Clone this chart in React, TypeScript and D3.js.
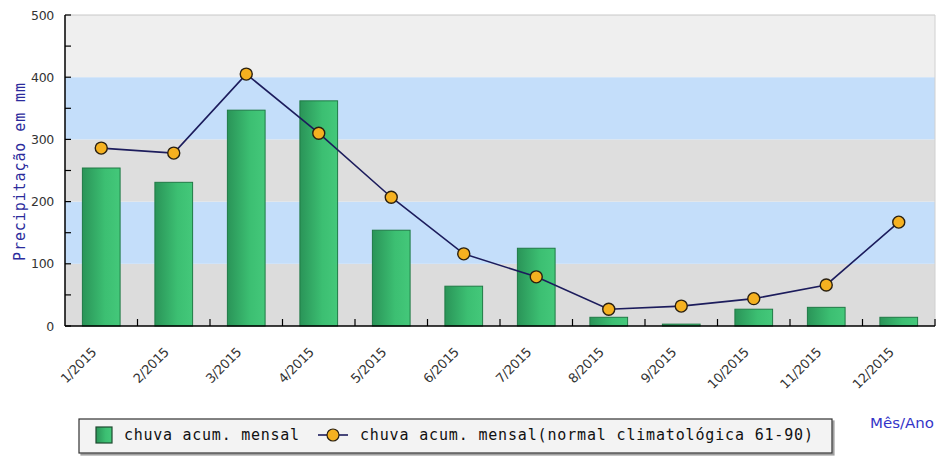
import React from "react";
import * as d3 from "d3";

const categories = ["1/2015","2/2015","3/2015","4/2015","5/2015","6/2015","7/2015","8/2015","9/2015","10/2015","11/2015","12/2015"];
const chuvaMensal = [254, 231, 347, 362, 154, 64, 125, 14, 3, 27, 30, 14];
const normalClimatologica = [286, 278, 405, 310, 207, 116, 79, 27, 32, 44, 66, 167];
const yTicks = [0, 100, 200, 300, 400, 500];
const yMinorTicks = [50, 150, 250, 350, 450];
const bands = [
  { from: 0, to: 100, color: "#dcdcdc" },
  { from: 100, to: 200, color: "#c4defa" },
  { from: 200, to: 300, color: "#dedede" },
  { from: 300, to: 400, color: "#c4defa" },
  { from: 400, to: 500, color: "#efefef" },
];

const W = 941, H = 456;
const M = { left: 65, right: 935, top: 15, bottom: 326 };

export default function App() {
  const x = d3.scaleBand<string>().domain(categories).range([M.left, M.right]).paddingInner(0).paddingOuter(0);
  const y = d3.scaleLinear().domain([0, 500]).range([M.bottom, M.top]);
  const bw = x.bandwidth() * 0.52;
  const cx = (c: string) => (x(c) as number) + x.bandwidth() / 2;
  const line = d3.line<number>().x((_, i) => cx(categories[i])).y((d) => y(d));
  const mono = "'DejaVu Sans Mono', monospace";
  const sans = "'DejaVu Sans', Verdana, sans-serif";

  return (
    <svg width={W} height={H} style={{ position: "absolute", left: 0, top: 0, background: "#fff" }}>
      <defs>
        <linearGradient id="barG" x1="0" x2="1" y1="0" y2="0">
          <stop offset="0" stopColor="#2a9458" />
          <stop offset="0.6" stopColor="#3cbf72" />
          <stop offset="1" stopColor="#44c87a" />
        </linearGradient>
        <filter id="shadow" x="-5%" y="-20%" width="110%" height="160%">
          <feDropShadow dx="2" dy="2" stdDeviation="0.6" floodColor="#888" floodOpacity="0.8" />
        </filter>
      </defs>
      {bands.map((b, i) => (
        <rect key={i} x={M.left} width={M.right - M.left} y={y(b.to)} height={y(b.from) - y(b.to)} fill={b.color} />
      ))}
      <line x1={M.left} x2={M.right} y1={M.top} y2={M.top} stroke="#c8c8c8" />
      <line x1={M.right} x2={M.right} y1={M.top} y2={M.bottom} stroke="#d0d0d0" />
      {chuvaMensal.map((v, i) => (
        <rect key={i} x={cx(categories[i]) - bw / 2} width={bw} y={y(v)} height={y(0) - y(v)}
          fill="url(#barG)" stroke="#1f7a45" strokeWidth={1} />
      ))}
      <path d={line(normalClimatologica) || ""} fill="none" stroke="#1c1c5c" strokeWidth={1.6} />
      {normalClimatologica.map((v, i) => (
        <circle key={i} cx={cx(categories[i])} cy={y(v)} r={6} fill="#f5b120" stroke="#2a2010" strokeWidth={1.4} />
      ))}
      {/* axes */}
      <line x1={M.left} x2={M.left} y1={M.top} y2={M.bottom} stroke="#000" strokeWidth={1.5} />
      <line x1={M.left} x2={M.right} y1={M.bottom} y2={M.bottom} stroke="#000" strokeWidth={1.5} />
      {yTicks.concat(yMinorTicks).map((t) => (
        <line key={t} x1={M.left} x2={M.left + 6} y1={y(t)} y2={y(t)} stroke="#000" strokeWidth={1.2} />
      ))}
      {yTicks.map((t) => (
        <text key={t} x={M.left - 11} y={y(t)} dy="0.36em" textAnchor="end" fontFamily={sans} fontSize={12.5} fill="#333" letterSpacing={-0.3}>{t}</text>
      ))}
      {categories.map((c) => (
        <line key={c} x1={(x(c) as number) + x.bandwidth()} x2={(x(c) as number) + x.bandwidth()} y1={M.bottom} y2={M.bottom - 7} stroke="#000" strokeWidth={1.2} />
      ))}
      {categories.map((c) => (
        <text key={c} transform={`translate(${cx(c) - 4},${M.bottom + 27}) rotate(-45)`} textAnchor="end" fontFamily={sans} fontSize={13} fill="#333" letterSpacing={-0.3}>{c}</text>
      ))}
      <text transform={`translate(25,172) rotate(-90)`} textAnchor="middle" fontFamily={mono} fontSize={15} fill="#2b2b9c" textLength={178} lengthAdjust="spacing">Precipitação em mm</text>
      {/* legend */}
      <rect x={79} y={419} width={753} height={34} fill="#f3f3f3" stroke="#333" strokeWidth={1.2} filter="url(#shadow)" />
      <rect x={96} y={427} width={16} height={16} fill="url(#barG)" stroke="#1f4a30" strokeWidth={1.2} />
      <text x={124} y={440} fontFamily={mono} fontSize={15} fill="#111" textLength={175} lengthAdjust="spacing">chuva acum. mensal</text>
      <line x1={318} x2={348} y1={435} y2={435} stroke="#1c1c5c" strokeWidth={1.6} />
      <circle cx={333} cy={435} r={6} fill="#f5b120" stroke="#2a2010" strokeWidth={1.2} />
      <text x={360} y={440} fontFamily={mono} fontSize={15} fill="#111" textLength={453} lengthAdjust="spacing">chuva acum. mensal(normal climatológica 61-90)</text>
      <text x={870} y={428} fontFamily={sans} fontSize={13.5} fill="#3434c8" textLength={64} lengthAdjust="spacingAndGlyphs">Mês/Ano</text>
    </svg>
  );
}
